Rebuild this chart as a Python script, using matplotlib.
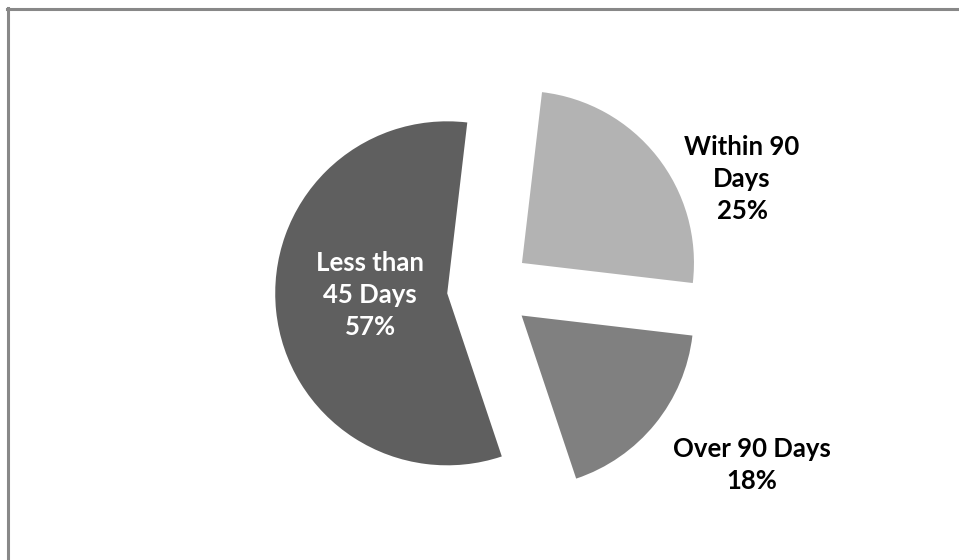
import matplotlib
matplotlib.use("Agg")
import matplotlib.pyplot as plt

# payment timing breakdown
labels = ["Within 90\nDays\n25%", "Over 90 Days\n18%", "Less than\n45 Days\n57%"]
shares = [25, 18, 57]
colors = ["#b3b3b3", "#808080", "#5f5f5f"]
text_colors = ["black", "black", "white"]
label_pos = [(742, 381), (752, 95), (370, 265)]

W, H = 959, 560
fig = plt.figure(figsize=(W / 100, H / 100), dpi=100)
ax = fig.add_axes([0, 0, 1, 1])

# explode is in data units here (pixels), not a fraction of the radius
ax.pie(shares, colors=colors, startangle=83.3, counterclock=False,
       center=(489, H - 289), radius=172, explode=[42] * 3,
       wedgeprops=dict(linewidth=0))

for txt, (x, y), c in zip(labels, label_pos, text_colors):
    ax.text(x, y, txt, ha="center", va="center", color=c,
            fontsize=18.5, fontweight="bold", family=["Lato", "DejaVu Sans"],
            linespacing=1.42, multialignment="center")

# chart frame (only top and left edges show)
ax.plot([7, W], [H - 9, H - 9], color="#888888", lw=2.2, clip_on=False)
ax.plot([8, 8], [0, H - 8], color="#888888", lw=2.2, clip_on=False)

ax.set_xlim(0, W)
ax.set_ylim(0, H)
ax.set_aspect("equal")
ax.axis("off")

fig.savefig("out.png", dpi=100)
